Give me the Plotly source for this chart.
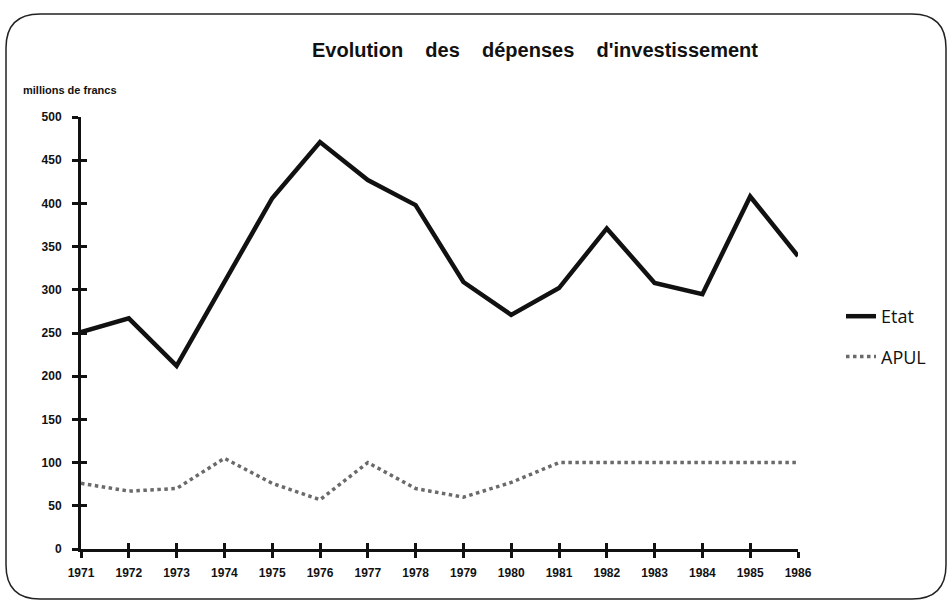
import plotly.graph_objects as go

years = list(range(1971, 1987))
etat = [251, 267, 212, 310, 406, 471, 427, 398, 309, 271, 302, 371, 308, 295, 408, 339]
apul = [76, 67, 70, 105, 76, 57, 100, 70, 60, 77, 100, 100, 100, 100, 100, 100]
y_ticks = list(range(0, 501, 50))

W, H = 949, 602
L, R, T, B = 81, 151, 117, 53
pw, ph = W - L - R, H - T - B

def px2paper(x, y):
    return (x - L) / pw, (H - B - y) / ph

fig = go.Figure()
fig.add_trace(go.Scatter(x=years, y=etat, name="Etat", mode="lines",
                         line=dict(color="#111111", width=4.5), legendgroup="a"))
fig.add_trace(go.Scatter(x=years, y=apul, name="APUL", mode="lines",
                         line=dict(color="#6a6a6a", width=3.5, dash="dot"), legendgroup="b"))
# invisible trace to anchor the overlay axes (inside tick marks)
fig.add_trace(go.Scatter(x=years, y=etat, xaxis="x2", yaxis="y2", mode="lines",
                         line=dict(width=0), showlegend=False, hoverinfo="skip"))

tickfont = dict(family="Liberation Sans", size=12, color="#111111", weight="bold")
common = dict(showgrid=False, zeroline=False, showline=True, linecolor="#111111",
              linewidth=3, tickcolor="#111111", tickwidth=3, ticklen=6)

fig.update_layout(
    width=W, height=H,
    margin=dict(l=L, r=R, t=T, b=B),
    paper_bgcolor="white", plot_bgcolor="white",
    xaxis=dict(range=[1971, 1986], tickvals=years, ticktext=[str(y) for y in years],
               ticks="outside", tickfont=tickfont, ticklabelstandoff=5, **common),
    yaxis=dict(range=[0, 500], tickvals=y_ticks, ticks="outside", tickfont=tickfont,
               ticklabelstandoff=8, **common),
    xaxis2=dict(range=[1971, 1986], tickvals=years, ticks="inside", showticklabels=False,
                overlaying="x", side="bottom", **common),
    yaxis2=dict(range=[0, 500], tickvals=y_ticks, ticks="inside", showticklabels=False,
                overlaying="y", side="left", **common),
    showlegend=True,
    legend=dict(x=px2paper(841, 0)[0], y=px2paper(0, 298)[1], xanchor="left", yanchor="top",
                font=dict(family="Open Sans", size=18, color="#111111"),
                traceorder="grouped", tracegroupgap=14, itemwidth=30,
                bgcolor="rgba(0,0,0,0)"),
)

tx, ty = px2paper(535, 50)
sp = "\u00a0" * 4
fig.add_annotation(text=f"Evolution{sp}des{sp}dépenses{sp}d'investissement",
                   x=tx, y=ty, xref="paper", yref="paper", showarrow=False,
                   xanchor="center", yanchor="middle",
                   font=dict(family="Liberation Sans", size=20, color="#111111", weight="bold"))
mx, my = px2paper(21, 90)
fig.add_annotation(text="millions de francs", x=mx, y=my, xref="paper", yref="paper",
                   showarrow=False, xanchor="left", yanchor="middle",
                   font=dict(family="Liberation Sans", size=11, color="#111111", weight="bold"))

# rounded frame around the chart
x0, y0, x1, y1, r = 6, 14, 946, 599, 34
def P(x, y):
    a, b = px2paper(x, y)
    return f"{a:.5f},{b:.5f}"
path = (f"M {P(x0 + r, y0)} L {P(x1 - r, y0)} Q {P(x1, y0)} {P(x1, y0 + r)} "
        f"L {P(x1, y1 - r)} Q {P(x1, y1)} {P(x1 - r, y1)} "
        f"L {P(x0 + r, y1)} Q {P(x0, y1)} {P(x0, y1 - r)} "
        f"L {P(x0, y0 + r)} Q {P(x0, y0)} {P(x0 + r, y0)} Z")
fig.add_shape(type="path", path=path, xref="paper", yref="paper",
              line=dict(color="#222222", width=1.5), layer="below")

fig.write_html("out.html", config={"displayModeBar": False},
               post_script="document.body.style.margin='0px';document.body.style.overflow='hidden';")
